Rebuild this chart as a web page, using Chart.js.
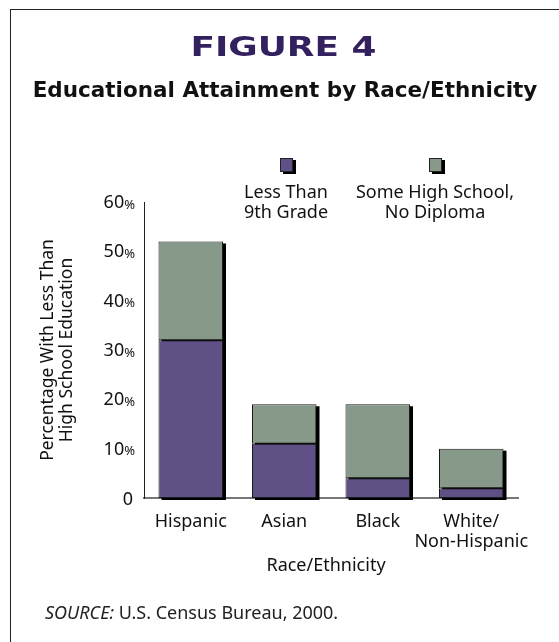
<!DOCTYPE html>
<html>
<head>
<meta charset="utf-8">
<script src="https://cdn.jsdelivr.net/npm/chart.js@4/dist/chart.umd.min.js"></script>
<style>
  html, body { margin: 0; padding: 0; background: #fff; }
  #wrap { position: relative; width: 559px; height: 642px; overflow: hidden; }
  #frame { position: absolute; left: 10px; top: 9px; right: -5px; bottom: -5px;
           border-top: 1.5px solid #222; border-left: 1.5px solid #222; }
  #chartbox { position: absolute; left: 0; top: 0; width: 559px; height: 642px; }
  .t { position: absolute; white-space: nowrap; }
  #fig { left: 0; width: 566px; top: 32px; text-align: center;
         font-family: "DejaVu Sans", sans-serif; font-weight: bold; font-size: 26px;
         color: #33205e; }
  #fig span { display: inline-block; transform: scaleX(1.38); }
  #sub { left: 0; width: 570px; top: 77px; text-align: center;
         font-family: "DejaVu Sans", sans-serif; font-weight: 700; font-size: 21.5px; color: #111; }
  #src { left: 45px; top: 600px; font-family: "Noto Sans", sans-serif; font-size: 18px; color: #222; }
</style>
</head>
<body>
<div id="wrap">
  <div id="frame"></div>
  <div id="chartbox"><canvas id="c"></canvas></div>
  <div class="t" id="fig"><span>FIGURE 4</span></div>
  <div class="t" id="sub">Educational Attainment by Race/Ethnicity</div>
  <div class="t" id="src"><i>SOURCE:</i> U.S. Census Bureau, 2000.</div>
</div>
<script>
const categories = [["Hispanic"], ["Asian"], ["Black"], ["White/", "Non-Hispanic"]];
const lessThan9th = [32, 11, 4, 2];
const someHighSchool = [20, 8, 15, 8];
const seriesLabels = [["Less Than", "9th Grade"], ["Some High School,", "No Diploma"]];
const yTicks = [0, 10, 20, 30, 40, 50, 60];
const yTitle = ["Percentage With Less Than", "High School Education"];
const xTitle = "Race/Ethnicity";

const PURPLE = "#5f5185";
const GREEN = "#879a8a";
const FONT = '"Noto Sans", sans-serif';

const decor = {
  id: "decor",
  beforeDatasetsDraw(chart) {
    const ctx = chart.ctx;
    const m0 = chart.getDatasetMeta(0), m1 = chart.getDatasetMeta(1);
    ctx.save();
    ctx.fillStyle = "#000";
    m0.data.forEach((b0, i) => {
      const b1 = m1.data[i];
      const half = b0.width / 2;
      const top = Math.min(b1.y, b0.y);
      const bottom = b0.base;
      ctx.fillRect(b0.x - half + 3, top + 2, b0.width, bottom - top);
    });
    ctx.restore();
  },
  afterDraw(chart) {
    const ctx = chart.ctx;
    const ys = chart.scales.y, xs = chart.scales.x;
    const area = chart.chartArea;
    ctx.save();
    ctx.fillStyle = "#111";
    ctx.textBaseline = "middle";
    yTicks.forEach(v => {
      const y = ys.getPixelForValue(v);
      const right = area.left - 9;
      ctx.textAlign = "right";
      if (v === 0) {
        ctx.font = "18px " + FONT;
        ctx.fillText("0", right - 2, y + 2);
      } else {
        ctx.font = "13px " + FONT;
        const pw = ctx.measureText("%").width;
        ctx.fillText("%", right, y + 3);
        ctx.font = "18px " + FONT;
        ctx.fillText(String(v), right - pw, y + 1);
      }
    });
    ctx.font = "18px " + FONT;
    ctx.textAlign = "center";
    categories.forEach((lines, i) => {
      const x = xs.getPixelForValue(i);
      lines.forEach((ln, k) => ctx.fillText(ln, x, area.bottom + 24 + k * 20));
    });
    ctx.fillText(xTitle, (area.left + area.right) / 2 - 5, area.bottom + 68);
    ctx.save();
    ctx.translate(58, (area.top + area.bottom) / 2);
    ctx.rotate(-Math.PI / 2);
    ctx.font = "17.5px " + FONT;
    yTitle.forEach((ln, k) => ctx.fillText(ln, 0, -10 + k * 19));
    ctx.restore();
    const legendX = [286, 435];
    chart.data.datasets.forEach((ds, i) => {
      const cx = legendX[i];
      ctx.fillStyle = "#000";
      ctx.fillRect(cx - 6 + 3, 158 + 2, 13, 14);
      ctx.fillStyle = ds.backgroundColor;
      ctx.fillRect(cx - 6, 158, 13, 14);
      ctx.strokeStyle = "#222";
      ctx.lineWidth = 1;
      ctx.strokeRect(cx - 6 + 0.5, 158 + 0.5, 12, 13);
      ctx.fillStyle = "#111";
      ctx.font = "18px " + FONT;
      seriesLabels[i].forEach((ln, k) => ctx.fillText(ln, cx, 193 + k * 20));
    });
    ctx.restore();
  }
};

new Chart(document.getElementById("c"), {
  type: "bar",
  data: {
    labels: categories,
    datasets: [
      { label: seriesLabels[0].join(" "), data: lessThan9th, backgroundColor: PURPLE,
        borderColor: "#1a1a1a", borderWidth: 1, borderSkipped: false },
      { label: seriesLabels[1].join(" "), data: someHighSchool, backgroundColor: GREEN,
        borderColor: "#1a1a1a", borderWidth: 1, borderSkipped: false }
    ]
  },
  options: {
    responsive: true,
    maintainAspectRatio: false,
    animation: false,
    layout: { padding: { left: 136, right: 41, top: 202, bottom: 136 } },
    datasets: { bar: { categoryPercentage: 1, barPercentage: 0.69 } },
    plugins: { legend: { display: false }, tooltip: { enabled: false }, title: { display: false } },
    scales: {
      x: { stacked: true, grid: { display: false },
           border: { display: true, color: "#777", width: 2 },
           ticks: { display: false } },
      y: { stacked: true, min: 0, max: 60, grid: { display: false },
           border: { display: true, color: "#222", width: 1 },
           ticks: { display: false, stepSize: 10 } }
    }
  },
  plugins: [decor]
});
</script>
</body>
</html>
